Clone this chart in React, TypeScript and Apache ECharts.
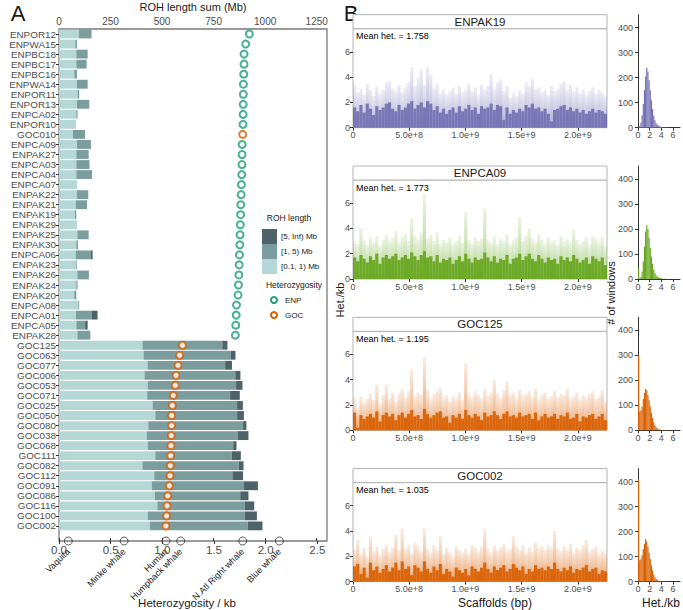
import React, { useEffect, useRef } from "react";
import * as echarts from "echarts";

const FONT = "'Liberation Sans', Arial, Helvetica, sans-serif";
const TXT = "#4d4d4d";
const DARK = "#1a1a1a";

// ---------- Panel A data ----------
const samples = [
  "ENPOR12", "ENPWA15", "ENPBC18", "ENPBC17", "ENPBC16", "ENPWA14", "ENPOR11", "ENPOR13", "ENPCA02", "ENPOR10",
  "GOC010", "ENPCA09", "ENPAK27", "ENPCA03", "ENPCA04", "ENPCA07", "ENPAK22", "ENPAK21", "ENPAK19", "ENPAK29",
  "ENPAK25", "ENPAK30", "ENPCA06", "ENPAK23", "ENPAK26", "ENPAK24", "ENPAK20", "ENPCA08", "ENPCA01", "ENPCA05",
  "ENPAK28", "GOC125", "GOC063", "GOC077", "GOC006", "GOC053", "GOC071", "GOC025", "GOC050", "GOC080",
  "GOC038", "GOC068", "GOC111", "GOC082", "GOC112", "GOC091", "GOC086", "GOC116", "GOC100", "GOC002",
];
// ROH length sums (Mb) per length class
const roh01 = [
  97, 79, 84, 84, 74, 87, 90, 87, 84, 81,
  68, 87, 84, 84, 84, 87, 87, 81, 77, 87,
  89, 84, 81, 81, 89, 84, 74, 94, 82, 84,
  89, 405, 410, 430, 415, 431, 428, 454, 467, 433,
  426, 431, 467, 405, 462, 450, 464, 477, 430, 441,
];
const roh15 = [
  61, 8, 55, 50, 13, 52, 8, 60, 6, 1,
  58, 68, 60, 64, 76, 0, 55, 55, 7, 0,
  55, 8, 74, 5, 56, 6, 10, 4, 78, 43,
  63, 387, 424, 376, 440, 428, 402, 410, 397, 460,
  440, 414, 371, 467, 379, 445, 415, 423, 471, 475,
];
const roh5inf = [
  0, 0, 0, 0, 0, 0, 0, 0, 0, 0,
  0, 0, 0, 0, 0, 0, 0, 0, 0, 0,
  0, 0, 8, 0, 0, 0, 0, 0, 27, 12,
  0, 25, 22, 33, 25, 31, 47, 28, 33, 16,
  53, 16, 44, 23, 52, 70, 40, 47, 59, 71,
];
// genome-wide heterozygosity (per kb)
const hetPerKb = [
  1.842, 1.807, 1.791, 1.791, 1.788, 1.785, 1.784, 1.783, 1.782, 1.781,
  1.778, 1.773, 1.772, 1.771, 1.769, 1.766, 1.763, 1.760, 1.758, 1.755,
  1.752, 1.750, 1.747, 1.744, 1.741, 1.737, 1.733, 1.718, 1.715, 1.711,
  1.707, 1.195, 1.168, 1.152, 1.133, 1.126, 1.107, 1.097, 1.091, 1.090,
  1.087, 1.084, 1.081, 1.078, 1.075, 1.068, 1.052, 1.046, 1.042, 1.035,
];
const speciesNames = ["Vaquita", "Minke whale", "Human", "Humpback whale", "N.Atl Right whale", "Blue whale"];
const speciesHet = [0.09, 0.63, 1.036, 1.178, 1.778, 2.133];
const rohTicks = [0, 250, 500, 750, 1000, 1250];
const hetTicks = [0, 0.5, 1, 1.5, 2, 2.5];

// ---------- Panel B data ----------
const panelNames = ["ENPAK19", "ENPCA09", "GOC125", "GOC002"];
const panelMeanHet = ["1.758", "1.773", "1.195", "1.035"];
const GENOME_BP = 2.26e9;
const genomeTicks = [0, 5e8, 1e9, 1.5e9, 2e9];
const hetKbTicks = [0, 2, 4, 6];
const countTicks = [0, 100, 200, 300, 400];
const histTicks = [0, 2, 4, 6];
const BIN_W = 0.2;

const peaksENPAK19 = [3.4,2.8,3.1,2.6,3.5,3.0,2.5,3.3,2.7,3.0,3.6,3.7,3.1,2.9,3.4,2.8,3.2,3.6,4.8,3.3,3.9,4.6,3.4,4.8,4.2,3.1,3.5,2.7,3.0,2.6,2.9,3.2,2.7,3.3,2.8,3.0,3.5,2.9,3.2,2.6,3.4,3.0,3.3,4.3,3.1,3.6,3.8,2.9,3.3,2.4,2.8,2.5,3.0,2.7,3.6,3.3,3.9,3.1,3.2,2.8,3.0,2.6,3.3,2.9,3.1,3.5,3.7,3.0,3.4,2.9,3.2,2.7,3.0,2.6,2.9,3.2,2.7,3.0,2.8,2.5];
const coreENPAK19 = [1.6,1.3,1.8,1.2,1.9,1.5,1.0,1.7,1.4,1.6,1.9,2.0,1.5,1.3,1.8,1.4,1.6,1.9,2.1,1.5,1.8,2.0,1.6,2.1,1.9,1.4,1.7,1.2,1.5,1.1,1.4,1.6,1.2,1.7,1.3,1.5,1.8,1.4,1.6,1.1,1.7,1.5,1.6,1.9,1.4,1.8,1.7,0.6,1.6,1.1,1.4,1.2,1.5,1.3,1.8,1.6,1.9,1.5,1.6,1.3,1.5,1.1,0.5,1.4,1.5,1.7,1.8,1.4,1.6,1.3,1.5,1.2,1.4,1.1,1.3,1.5,1.2,1.4,1.3,1.1];
const peaksENPCA09 = [3.0,2.8,4.0,3.1,2.7,3.3,2.9,3.4,2.6,3.1,3.5,3.0,3.2,3.8,2.9,3.3,3.6,3.0,4.8,3.4,3.1,3.7,6.7,3.2,3.5,3.0,3.7,2.8,3.1,2.9,3.3,2.7,3.0,3.4,2.9,5.3,3.1,2.8,3.3,3.0,3.2,5.6,3.1,2.9,3.4,2.8,3.2,3.0,3.5,2.7,3.1,3.3,4.9,3.0,3.4,4.0,3.2,2.9,3.6,3.1,2.8,3.3,2.9,3.1,2.7,3.4,3.0,3.2,2.9,3.9,3.1,2.8,3.0,3.3,2.7,3.4,3.2,2.9,3.3,2.6];
const coreENPCA09 = [1.7,1.4,1.9,1.6,1.3,1.8,1.5,2.0,1.2,1.7,1.9,1.6,1.8,2.0,1.5,1.7,1.9,1.6,2.1,1.8,1.5,1.9,2.2,1.7,1.8,1.4,1.9,1.3,1.6,1.5,1.7,1.2,1.5,1.8,1.4,2.0,1.6,1.3,1.7,1.5,1.6,2.1,1.7,1.4,1.8,1.3,1.6,1.5,1.9,1.2,1.6,1.7,2.0,1.5,1.8,2.0,1.6,1.4,1.9,1.6,1.3,1.7,1.5,1.6,1.2,1.8,1.5,1.7,1.4,1.9,1.6,1.3,1.5,1.7,1.2,1.8,1.6,1.4,1.7,1.1];
const peaksGOC125 = [2.6,1.8,2.7,2.2,2.5,2.9,2.4,3.6,2.1,2.8,3.6,2.5,3.0,2.3,2.9,3.3,2.6,3.1,4.8,2.7,3.0,2.8,5.8,3.2,2.5,2.9,3.1,3.4,2.6,2.8,2.3,2.7,2.5,3.0,2.4,5.3,2.9,2.6,3.1,2.8,2.5,3.3,2.7,3.0,4.0,2.9,2.6,3.2,3.9,2.8,3.0,2.5,3.2,2.7,2.9,3.1,2.6,3.3,2.4,2.8,3.0,2.5,2.7,3.1,2.6,2.9,2.8,3.3,2.5,2.7,3.0,2.4,2.8,2.6,2.9,3.1,2.5,2.7,3.2,2.3];
const coreGOC125 = [1.4,0.2,1.2,0.9,1.1,1.3,1.0,1.5,0.7,1.2,1.4,1.1,1.3,0.8,1.2,1.4,1.0,1.3,1.6,1.1,1.2,0.9,1.7,1.3,1.0,1.2,1.4,1.5,1.0,1.1,0.6,1.2,1.0,1.3,0.9,1.6,1.2,1.0,1.3,1.1,0.8,1.4,1.1,1.2,1.5,1.2,0.9,1.3,1.5,1.1,1.2,1.0,1.4,1.1,1.2,1.3,0.9,1.4,0.8,1.1,1.3,1.0,1.1,1.3,0.9,1.2,1.1,1.4,0.9,1.0,1.3,0.7,1.1,1.0,1.2,1.3,0.9,1.1,1.3,0.8];
const peaksGOC002 = [2.5,3.3,2.2,2.7,2.0,3.6,2.4,2.8,2.1,2.6,2.9,2.3,2.7,3.7,2.5,4.2,2.6,2.9,2.2,3.1,2.8,2.4,4.2,2.6,2.3,2.9,2.5,3.6,2.2,2.7,2.4,2.0,2.8,2.5,2.3,2.6,2.2,2.9,2.7,2.4,2.8,4.2,2.6,2.3,2.9,2.5,2.7,3.0,2.4,2.6,3.6,2.8,2.5,2.9,2.3,2.7,2.4,3.1,2.6,2.8,2.5,2.9,2.7,4.0,2.6,2.4,2.8,2.5,3.0,2.3,2.7,2.5,2.9,3.3,2.4,2.6,2.8,2.2,2.5,2.3];
const coreGOC002 = [1.2,1.4,0.6,1.1,0.3,1.5,0.9,1.2,0.7,1.0,1.3,0.8,1.1,1.5,0.9,1.6,1.0,1.2,0.5,1.3,1.1,0.8,1.6,1.0,0.7,1.2,0.9,1.4,0.6,1.0,0.8,0.4,1.1,0.9,0.7,1.0,0.5,1.2,1.0,0.8,1.1,1.5,1.0,0.7,1.2,0.9,1.1,1.3,0.8,1.0,1.4,1.1,0.9,1.2,0.6,1.0,0.8,1.3,1.0,1.1,0.9,1.2,1.0,1.5,1.0,0.8,1.1,0.9,1.2,0.7,1.0,0.9,1.1,1.3,0.8,1.0,1.1,0.6,0.9,0.8];

const histENPAK19 = [2,6,20,50,95,150,205,240,225,190,150,110,75,48,30,18,12,8,5,4,3,2,1,1,1,0,0,0,0,0,0,0,0,0,0];
const histENPCA09 = [43,3,8,30,70,130,190,215,200,165,125,90,60,38,24,15,10,6,4,3,2,1,1,1,0,0,0,0,0,0,0,0,0,0,0];
const histGOC125 = [300,75,80,95,125,150,165,160,140,120,95,70,50,32,20,12,7,4,3,2,1,1,1,1,1,1,0,1,0,0,1,0,0,0,0];
const histGOC002 = [410,85,90,105,130,150,170,160,140,115,90,65,45,28,17,10,6,4,2,2,1,1,1,1,0,1,0,0,0,0,0,0,0,0,0];

const panelPeaks = [peaksENPAK19, peaksENPCA09, peaksGOC125, peaksGOC002];
const panelCore = [coreENPAK19, coreENPCA09, coreGOC125, coreGOC002];
const panelHist = [histENPAK19, histENPCA09, histGOC125, histGOC002];

// ---------- styles ----------
const LIGHT = "#b5d8d7";
const MID = "#7b9d9d";
const DARKBAR = "#4e6367";
const POP_COLOR: Record<string, string> = { ENP: "#1b9e77", GOC: "#d95f02" };
const PANEL_COLOR = ["#7570b3", "#66a61e", "#d95f02", "#d95f02"];
const PANEL_RGB = ["117,112,179", "102,166,30", "217,95,2", "217,95,2"];

const f = (size: number) => `${size}px ${FONT}`;

function txt(x: number, y: number, text: string, size: number, extra: any = {}) {
  return {
    type: "text",
    x,
    y,
    rotation: extra.rotation || 0,
    silent: true,
    style: {
      text,
      font: f(size),
      fill: extra.fill || DARK,
      textAlign: extra.align || "left",
      textVerticalAlign: "middle",
    },
  };
}

function buildOption() {
  const tick = (len = 3) => ({ show: true, length: len, lineStyle: { color: "#333", width: 1 } });
  const grids: any[] = [{ left: 59, top: 29, width: 268, height: 512, show: true, borderColor: "#7a7a7a", borderWidth: 1.3, backgroundColor: "transparent" }];
  const xAxes: any[] = [
    {
      type: "value", gridIndex: 0, position: "top", min: 0, max: 1300,
      axisLine: { show: false }, splitLine: { show: false },
      axisTick: { ...tick(), customValues: rohTicks },
      axisLabel: { customValues: rohTicks, formatter: (v: number) => String(v), fontSize: 10, color: TXT, margin: 3, fontFamily: FONT },
    },
    {
      type: "value", gridIndex: 0, position: "bottom", min: 0, max: 2.594,
      axisLine: { show: false }, splitLine: { show: false },
      axisTick: { ...tick(), customValues: hetTicks },
      axisLabel: { customValues: hetTicks, formatter: (v: number) => v.toFixed(1), fontSize: 11.5, color: TXT, margin: 3, fontFamily: FONT },
    },
    {
      type: "value", gridIndex: 0, position: "bottom", min: 0, max: 2.594,
      axisLine: { show: false }, splitLine: { show: false }, axisTick: { show: false },
      axisLabel: {
        customValues: speciesHet,
        formatter: (v: number) => speciesNames[speciesHet.indexOf(v)] ?? "",
        rotate: 45, fontSize: 9, color: DARK, margin: 9, fontFamily: FONT,
      },
    },
  ];
  const yAxes: any[] = [
    {
      type: "category", gridIndex: 0, inverse: true, data: [...samples, ""],
      axisLine: { show: false }, splitLine: { show: false },
      axisTick: { ...tick(), alignWithLabel: true, interval: (i: number) => i < samples.length },
      axisLabel: { interval: 0, fontSize: 9.9, lineHeight: 9, color: TXT, margin: 3, fontFamily: FONT },
    },
    { type: "value", gridIndex: 0, min: 0, max: 1, show: false },
  ];
  const series: any[] = [
    { type: "bar", name: "[0.1, 1) Mb", xAxisIndex: 0, yAxisIndex: 0, stack: "roh", data: roh01, barCategoryGap: "12%", itemStyle: { color: LIGHT }, silent: true },
    { type: "bar", name: "[1, 5) Mb", xAxisIndex: 0, yAxisIndex: 0, stack: "roh", data: roh15, barCategoryGap: "12%", itemStyle: { color: MID }, silent: true },
    { type: "bar", name: "[5, Inf) Mb", xAxisIndex: 0, yAxisIndex: 0, stack: "roh", data: roh5inf, barCategoryGap: "12%", itemStyle: { color: DARKBAR }, silent: true },
    {
      type: "scatter", xAxisIndex: 1, yAxisIndex: 0, symbol: "circle", symbolSize: 7, z: 5, silent: true,
      itemStyle: { color: "#ffffff", borderWidth: 2 },
      data: samples.map((s, i) => ({
        value: [hetPerKb[i], i],
        itemStyle: { borderColor: POP_COLOR[s.startsWith("GOC") ? "GOC" : "ENP"] },
      })),
    },
    {
      type: "scatter", xAxisIndex: 1, yAxisIndex: 1, symbol: "circle", symbolSize: 8, z: 6, clip: false, silent: true,
      itemStyle: { color: "rgba(255,255,255,0)", borderColor: "#333", borderWidth: 1 },
      data: speciesHet.map((h) => [h, 0]),
    },
  ];

  const graphics: any[] = [
    txt(18, 13, "A", 22, { align: "center" }),
    txt(351, 13, "B", 22, { align: "center" }),
    txt(193, 7, "ROH length sum (Mb)", 11, { align: "center" }),
    txt(187, 603, "Heterozygosity / kb", 11.5, { align: "center" }),
    txt(289, 218, "ROH length", 8.5, { align: "center" }),
    { type: "rect", shape: { x: 262, y: 229, width: 15, height: 15 }, style: { fill: DARKBAR } },
    { type: "rect", shape: { x: 262, y: 244, width: 15, height: 15 }, style: { fill: MID } },
    { type: "rect", shape: { x: 262, y: 259, width: 15, height: 15 }, style: { fill: LIGHT } },
    txt(281, 236.5, "[5, Inf) Mb", 8),
    txt(281, 251.5, "[1, 5) Mb", 8),
    txt(281, 266.5, "[0.1, 1) Mb", 8),
    txt(294, 285, "Heterozygosity", 8.5, { align: "center" }),
    { type: "circle", shape: { cx: 274, cy: 300, r: 3 }, style: { fill: "#fff", stroke: POP_COLOR.ENP, lineWidth: 2 } },
    { type: "circle", shape: { cx: 274, cy: 315, r: 3 }, style: { fill: "#fff", stroke: POP_COLOR.GOC, lineWidth: 2 } },
    txt(285, 300, "ENP", 8),
    txt(285, 315, "GOC", 8),
    txt(340, 300, "Het./kb", 11, { align: "center", rotation: Math.PI / 2 }),
    txt(611, 293, "# of windows", 11, { align: "center", rotation: Math.PI / 2 }),
    txt(495, 603, "Scaffolds (bp)", 12, { align: "center" }),
    txt(661, 603, "Het./kb", 12, { align: "center" }),
  ];

  const STEP = 151.3;
  panelNames.forEach((name, i) => {
    const gTop = 28.7 + STEP * i;
    const hTop = 14.7 + STEP * i;
    const color = PANEL_COLOR[i];
    const rgb = PANEL_RGB[i];
    const gi = grids.length;
    grids.push({ left: 353, top: gTop, width: 254, height: 99, show: true, borderColor: "#b3b3b3", borderWidth: 1, backgroundColor: "transparent" });
    grids.push({ left: 636, top: hTop, width: 44, height: 113 });
    const xi = xAxes.length;
    const yi = yAxes.length;
    xAxes.push({
      type: "value", gridIndex: gi, min: 0, max: GENOME_BP,
      axisLine: { show: false }, splitLine: { show: false },
      axisTick: { ...tick(), customValues: genomeTicks },
      axisLabel: {
        customValues: genomeTicks, fontSize: 9, color: TXT, margin: 3, fontFamily: FONT,
        formatter: (v: number) => (v === 0 ? "0" : v.toExponential(1)),
      },
    });
    xAxes.push({
      type: "value", gridIndex: gi + 1, min: -0.35, max: 7.2,
      axisLine: { show: true, lineStyle: { color: "#333", width: 1 } }, splitLine: { show: false },
      axisTick: { ...tick(), customValues: histTicks },
      axisLabel: { customValues: histTicks, fontSize: 9, color: TXT, margin: 3, fontFamily: FONT },
    });
    yAxes.push({
      type: "value", gridIndex: gi, min: 0, max: 7.83,
      axisLine: { show: false }, splitLine: { show: false },
      axisTick: { ...tick(), customValues: hetKbTicks },
      axisLabel: { customValues: hetKbTicks, fontSize: 9, color: TXT, margin: 3, fontFamily: FONT },
    });
    yAxes.push({
      type: "value", gridIndex: gi + 1, min: 0, max: 452,
      axisLine: { show: true, lineStyle: { color: "#333", width: 1 } }, splitLine: { show: false },
      axisTick: { ...tick(), customValues: countTicks },
      axisLabel: { customValues: countTicks, fontSize: 9, color: TXT, margin: 3, fontFamily: FONT },
    });
    const n = panelPeaks[i].length;
    const win = GENOME_BP / n;
    series.push({
      type: "bar", xAxisIndex: xi, yAxisIndex: yi, barWidth: "100%", barGap: "-100%", barCategoryGap: "0%", silent: true,
      itemStyle: {
        color: new echarts.graphic.LinearGradient(0, 0, 0, 1, [
          { offset: 0, color: `rgba(${rgb},0.12)` },
          { offset: 1, color: `rgba(${rgb},0.6)` },
        ]),
      },
      data: panelPeaks[i].map((v, k) => [(k + 0.5) * win, v]),
    });
    series.push({
      type: "bar", xAxisIndex: xi, yAxisIndex: yi, barWidth: "100%", barGap: "-100%", barCategoryGap: "0%", silent: true,
      itemStyle: { color, opacity: 0.92 },
      data: panelCore[i].map((v, k) => [(k + 0.5) * win, v]),
    });
    series.push({
      type: "bar", xAxisIndex: xi + 1, yAxisIndex: yi + 1, barCategoryGap: "0%", silent: true,
      itemStyle: { color },
      data: panelHist[i].map((c, k) => [(k + 0.5) * BIN_W, c]),
    });
    graphics.push({ type: "rect", shape: { x: 353, y: hTop, width: 254, height: 14 }, style: { fill: "#fff", stroke: "#b3b3b3", lineWidth: 1 } });
    graphics.push(txt(480, hTop + 7, name, 11.5, { align: "center" }));
    graphics.push(txt(356, gTop + 7.5, `Mean het. = ${panelMeanHet[i]}`, 9, { fill: "#000" }));
  });

  return {
    animation: false,
    textStyle: { fontFamily: FONT },
    grid: grids,
    xAxis: xAxes,
    yAxis: yAxes,
    series,
    graphic: { elements: graphics },
  };
}

export default function App() {
  const ref = useRef<HTMLDivElement>(null);
  useEffect(() => {
    const chart = echarts.init(ref.current!, null, { renderer: "svg" });
    chart.setOption(buildOption() as any);
    return () => chart.dispose();
  }, []);
  return (
    <div
      ref={ref}
      style={{ position: "absolute", left: 0, top: 0, width: 683, height: 610, background: "#fff" }}
    />
  );
}
